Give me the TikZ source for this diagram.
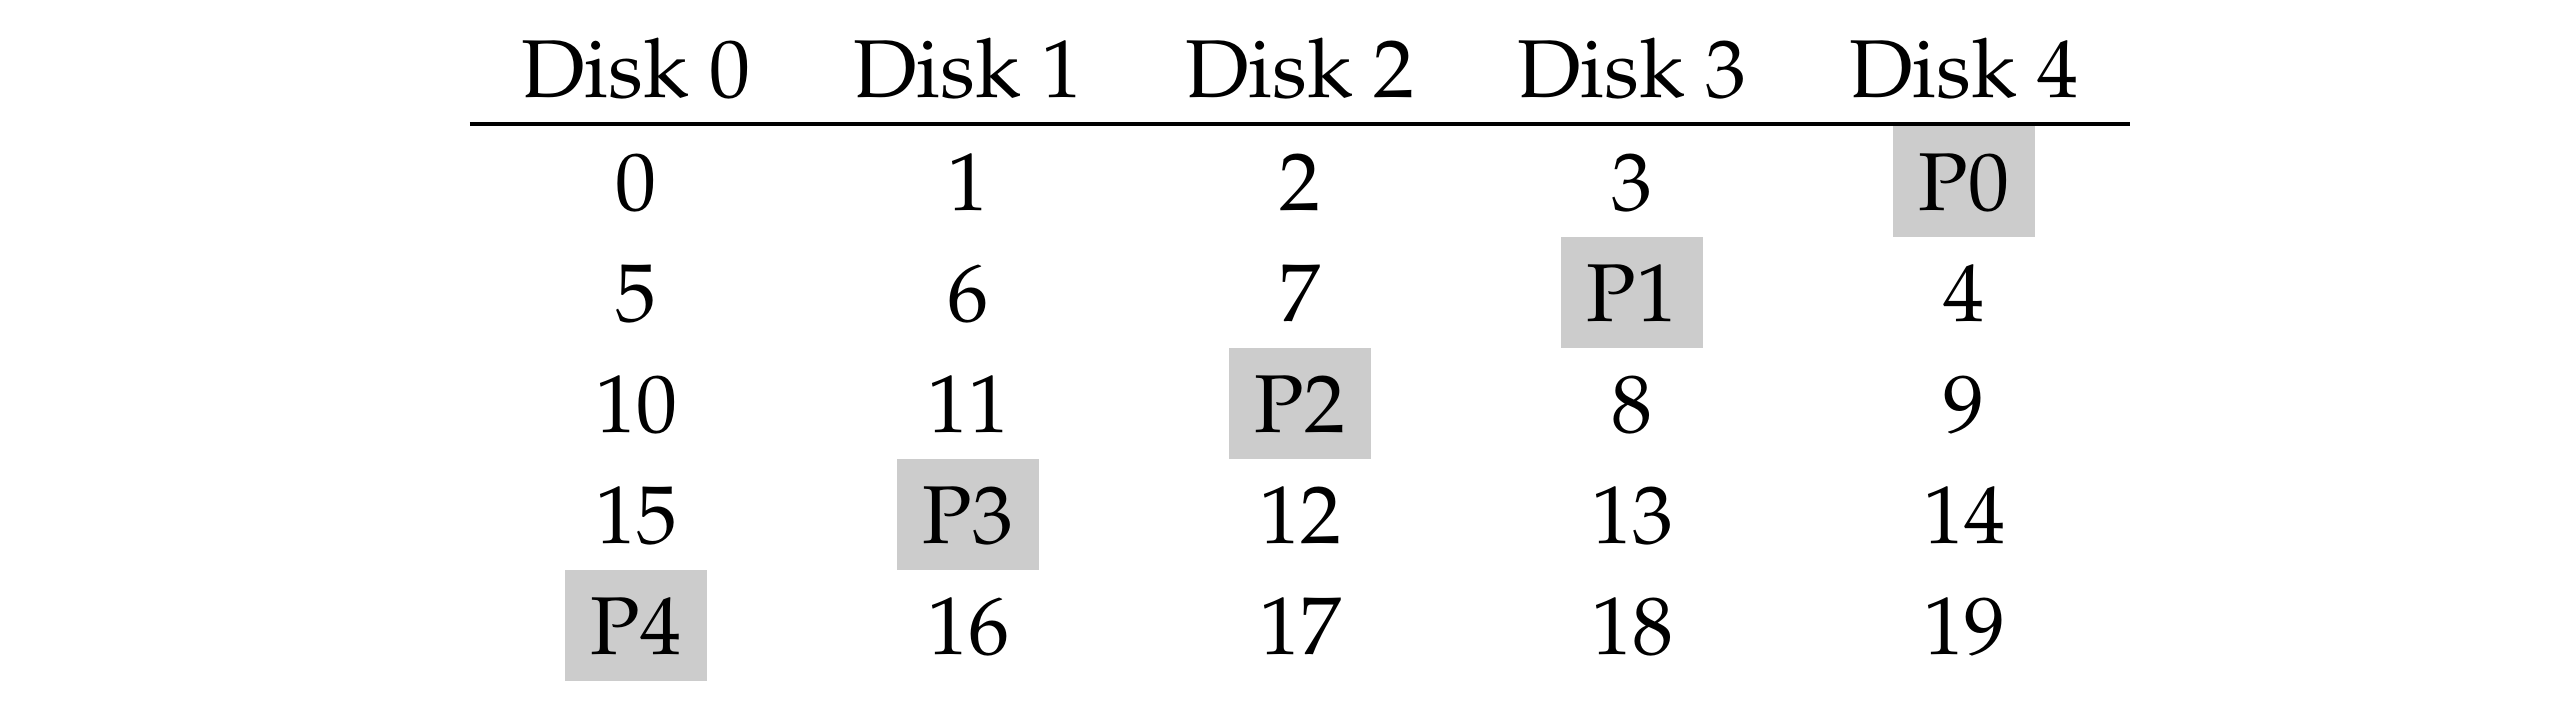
\documentclass[tikz,border=0pt]{standalone}
\usepackage[T1]{fontenc}
\usepackage{mathpazo}
\usepackage{tikz}
\usetikzlibrary{positioning}

\tikzset{
  cell/.style={minimum width=17.3pt, text height=6.92pt, text depth=0pt,
               inner xsep=0pt, inner ysep=3.31pt, anchor=base},
  parity/.style={cell, fill=black!20},
  head/.style={inner sep=0pt, anchor=base}
}

\begin{document}
\begin{tikzpicture}[x=1pt, y=1pt]
  \useasboundingbox (0,0) rectangle (313.9,-86.6);
  % column heads
  \foreach \c in {0,...,4}
    \node[head] (h\c) at ({77.56+40.49*\c},-11.83) {Disk \c};
  \coordinate (rl) at (57.3,-15.12);
  \coordinate (rr) at (259.8,-15.12);
  \draw[line width=0.4pt] (rl) -- (rr);
  % blocks, parity on the diagonal
  \foreach \row [count=\r from 0] in {{0,1,2,3,P0},{5,6,7,P1,4},{10,11,P2,8,9},{15,P3,12,13,14},{P4,16,17,18,19}}
    \foreach \val [count=\c from 0] in \row {
      \pgfmathtruncatemacro{\p}{4-\r}
      \ifnum\c=\p \def\sty{parity}\else\def\sty{cell}\fi
      \node[\sty] (b\r-\c) at ({77.56+40.49*\c},{-25.61-13.54*\r}) {\val};
    }
\end{tikzpicture}
\end{document}
